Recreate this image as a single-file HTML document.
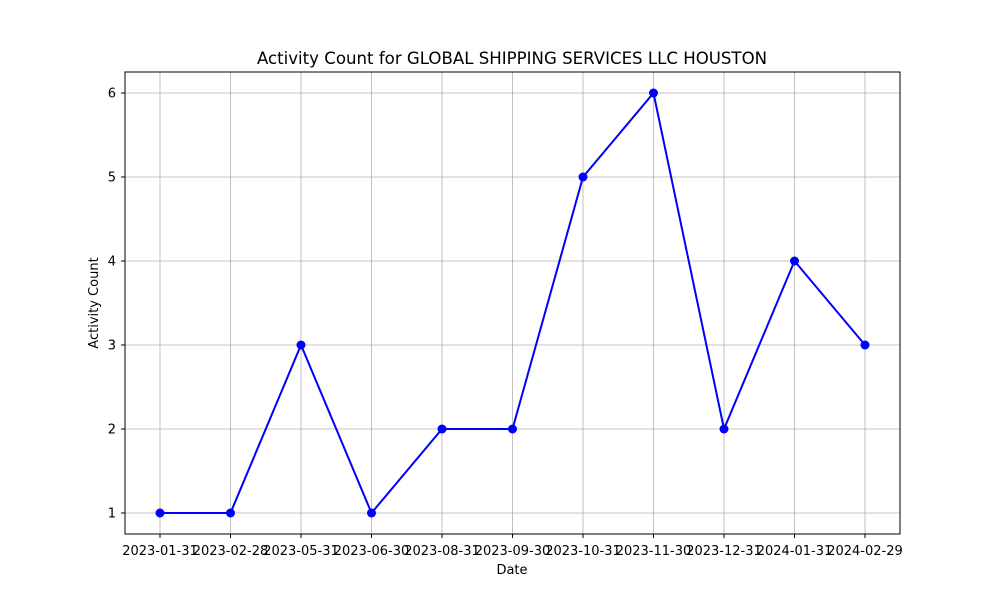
<!DOCTYPE html>
<html><head><meta charset="utf-8"><style>
body{margin:0;background:#fff;}
svg text{font-family:"DejaVu Sans","Liberation Sans",sans-serif;fill:#000;}
</style></head><body>
<svg id="chart" width="1000" height="600">
<rect width="1000" height="600" fill="#fff"/>
<g id="grid"></g><g id="ticks"></g><g id="series"></g>
<rect x="125" y="72" width="775" height="462" fill="none" stroke="#000" stroke-width="1"/>
<text x="512" y="64" text-anchor="middle" font-size="16.6">Activity Count for GLOBAL SHIPPING SERVICES LLC HOUSTON</text>
<text x="512" y="574" text-anchor="middle" font-size="13">Date</text>
<text x="98" y="303" text-anchor="middle" font-size="13" transform="rotate(-90 98 303)">Activity Count</text>
</svg>
<script>
const categories=["2023-01-31","2023-02-28","2023-05-31","2023-06-30","2023-08-31","2023-09-30","2023-10-31","2023-11-30","2023-12-31","2024-01-31","2024-02-29"];
const counts=[1,1,3,1,2,2,5,6,2,4,3];
const yTicks=[1,2,3,4,5,6];
const NS="http://www.w3.org/2000/svg";
const x0=160,x1=865;
function xPos(i){return x0+(x1-x0)*i/(categories.length-1);}
function yPos(v){return 513-(v-1)*84;}
function mk(tag,attrs,parent){const e=document.createElementNS(NS,tag);for(const k in attrs)e.setAttribute(k,attrs[k]);document.getElementById(parent).appendChild(e);return e;}
categories.forEach((c,i)=>{
  const x=xPos(i);
  const g=mk('line',{x1:x,x2:x,y1:72,y2:534,stroke:'#b0b0b0','stroke-width':0.8},'grid');
  
  
  const t=mk('line',{x1:x,x2:x,y1:534,y2:538,stroke:'#000'},'ticks');
  
  
  const l=mk('text',{x:x,y:555,'text-anchor':'middle','font-size':13},'ticks');
  l.textContent=c;
  
  
});
yTicks.forEach(v=>{
  const y=yPos(v);
  const g=mk('line',{x1:125,x2:900,y1:y,y2:y,stroke:'#b0b0b0','stroke-width':0.8},'grid');
  
  
  const t=mk('line',{x1:121,x2:125,y1:y,y2:y,stroke:'#000'},'ticks');
  
  
  const l=mk('text',{x:116,y:y+4.5,'text-anchor':'end','font-size':13},'ticks');
  l.textContent=v;
  
  
});
const pts=counts.map((v,i)=>xPos(i)+','+yPos(v)).join(' ');
const line=mk('polyline',{points:pts,fill:'none',stroke:'#0000ff','stroke-width':2},'series');


counts.forEach((v,i)=>{
  const c=mk('circle',{cx:xPos(i),cy:yPos(v),r:4.5,fill:'#0000ff'},'series');
  
  
});
</script>
</body></html>
